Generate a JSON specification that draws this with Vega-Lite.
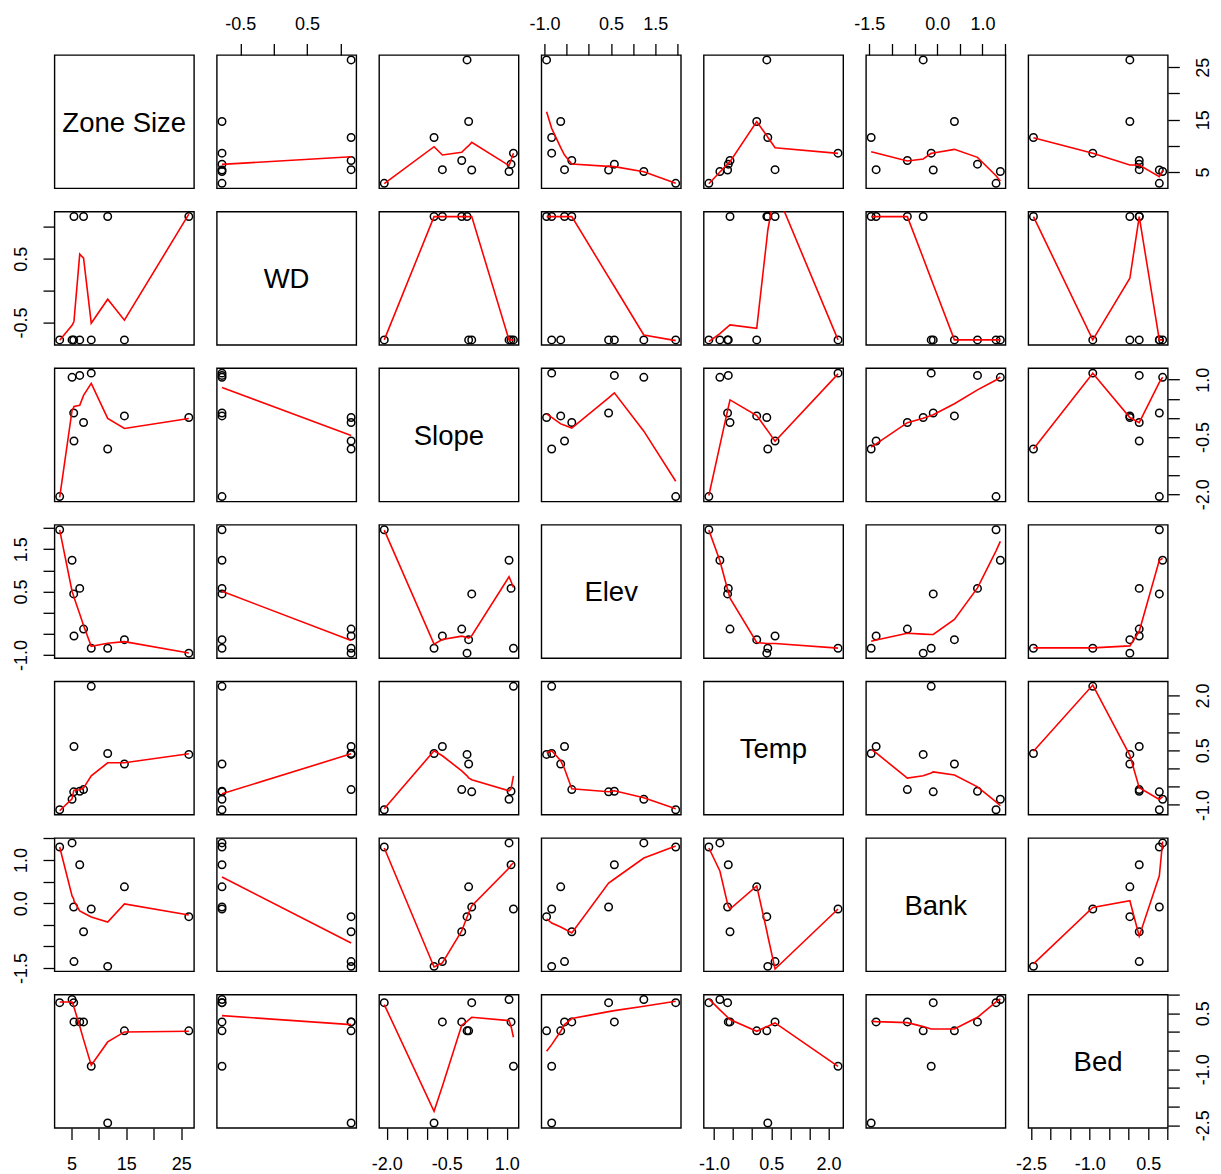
{
  "$schema": "https://vega.github.io/schema/vega-lite/v6.json",
  "datasets": {
    "obs": [
      {"ZoneSize": 26.4, "WD": 1.1619, "Slope": 0.01, "Elev": -0.955, "Temp": 0.384, "Bank": -0.31, "Bed": 0.03},
      {"ZoneSize": 14.65, "WD": -0.7746, "Slope": 0.05, "Elev": -0.636, "Temp": 0.12, "Bank": 0.38, "Bed": 0.03},
      {"ZoneSize": 11.6, "WD": 1.1619, "Slope": -0.815, "Elev": -0.84, "Temp": 0.41, "Bank": -1.46, "Bed": -2.44},
      {"ZoneSize": 8.6, "WD": -0.7746, "Slope": 1.17, "Elev": -0.84, "Temp": 2.25, "Bank": -0.133, "Bed": -0.92},
      {"ZoneSize": 7.2, "WD": 1.1619, "Slope": -0.123, "Elev": -0.386, "Temp": -0.58, "Bank": -0.66, "Bed": 0.27},
      {"ZoneSize": 6.5, "WD": -0.7746, "Slope": 1.11, "Elev": 0.575, "Temp": -0.625, "Bank": 0.89, "Bed": 0.27},
      {"ZoneSize": 5.45, "WD": 1.1619, "Slope": -0.607, "Elev": -0.55, "Temp": 0.6, "Bank": -1.35, "Bed": 0.27},
      {"ZoneSize": 5.4, "WD": -0.7746, "Slope": 0.127, "Elev": 0.445, "Temp": -0.643, "Bank": -0.088, "Bed": 0.785},
      {"ZoneSize": 5.1, "WD": -0.7746, "Slope": 1.06, "Elev": 1.24, "Temp": -0.845, "Bank": 1.395, "Bed": 0.87},
      {"ZoneSize": 2.84, "WD": -0.7746, "Slope": -2.06, "Elev": 1.96, "Temp": -1.134, "Bank": 1.3, "Bed": 0.785}
    ],
    "smooth": [
      {"fit": "ZoneSize~WD", "WD": -0.7746, "ZoneSize": 6.47}, {"fit": "ZoneSize~WD", "WD": 1.1619, "ZoneSize": 7.93},
      {"fit": "ZoneSize~Slope", "Slope": -2.06, "ZoneSize": 2.78}, {"fit": "ZoneSize~Slope", "Slope": -0.815, "ZoneSize": 9.84}, {"fit": "ZoneSize~Slope", "Slope": -0.607, "ZoneSize": 8.25}, {"fit": "ZoneSize~Slope", "Slope": -0.123, "ZoneSize": 8.76}, {"fit": "ZoneSize~Slope", "Slope": 0.01, "ZoneSize": 9.78}, {"fit": "ZoneSize~Slope", "Slope": 0.05, "ZoneSize": 10.03}, {"fit": "ZoneSize~Slope", "Slope": 0.127, "ZoneSize": 10.67}, {"fit": "ZoneSize~Slope", "Slope": 1.06, "ZoneSize": 6.22}, {"fit": "ZoneSize~Slope", "Slope": 1.11, "ZoneSize": 7.3}, {"fit": "ZoneSize~Slope", "Slope": 1.17, "ZoneSize": 8.57},
      {"fit": "ZoneSize~Elev", "Elev": -0.955, "ZoneSize": 16.52}, {"fit": "ZoneSize~Elev", "Elev": -0.84, "ZoneSize": 13.34}, {"fit": "ZoneSize~Elev", "Elev": -0.636, "ZoneSize": 9.65}, {"fit": "ZoneSize~Elev", "Elev": -0.55, "ZoneSize": 8.25}, {"fit": "ZoneSize~Elev", "Elev": -0.386, "ZoneSize": 6.53}, {"fit": "ZoneSize~Elev", "Elev": 0.445, "ZoneSize": 6.09}, {"fit": "ZoneSize~Elev", "Elev": 0.575, "ZoneSize": 6.03}, {"fit": "ZoneSize~Elev", "Elev": 1.24, "ZoneSize": 5.07}, {"fit": "ZoneSize~Elev", "Elev": 1.96, "ZoneSize": 2.84},
      {"fit": "ZoneSize~Temp", "Temp": -1.134, "ZoneSize": 2.78}, {"fit": "ZoneSize~Temp", "Temp": -0.845, "ZoneSize": 5.01}, {"fit": "ZoneSize~Temp", "Temp": -0.643, "ZoneSize": 6.53}, {"fit": "ZoneSize~Temp", "Temp": -0.625, "ZoneSize": 6.66}, {"fit": "ZoneSize~Temp", "Temp": -0.58, "ZoneSize": 6.98}, {"fit": "ZoneSize~Temp", "Temp": 0.12, "ZoneSize": 14.62}, {"fit": "ZoneSize~Temp", "Temp": 0.384, "ZoneSize": 11.94}, {"fit": "ZoneSize~Temp", "Temp": 0.41, "ZoneSize": 11.63}, {"fit": "ZoneSize~Temp", "Temp": 0.6, "ZoneSize": 9.65}, {"fit": "ZoneSize~Temp", "Temp": 2.25, "ZoneSize": 8.57},
      {"fit": "ZoneSize~Bank", "Bank": -1.46, "ZoneSize": 8.89}, {"fit": "ZoneSize~Bank", "Bank": -1.35, "ZoneSize": 8.63}, {"fit": "ZoneSize~Bank", "Bank": -0.66, "ZoneSize": 7.11}, {"fit": "ZoneSize~Bank", "Bank": -0.31, "ZoneSize": 7.49}, {"fit": "ZoneSize~Bank", "Bank": -0.133, "ZoneSize": 8.57}, {"fit": "ZoneSize~Bank", "Bank": -0.088, "ZoneSize": 8.63}, {"fit": "ZoneSize~Bank", "Bank": 0.38, "ZoneSize": 9.33}, {"fit": "ZoneSize~Bank", "Bank": 0.89, "ZoneSize": 7.81}, {"fit": "ZoneSize~Bank", "Bank": 1.3, "ZoneSize": 4.31}, {"fit": "ZoneSize~Bank", "Bank": 1.395, "ZoneSize": 3.3},
      {"fit": "ZoneSize~Bed", "Bed": -2.44, "ZoneSize": 11.56}, {"fit": "ZoneSize~Bed", "Bed": -0.92, "ZoneSize": 8.57}, {"fit": "ZoneSize~Bed", "Bed": 0.03, "ZoneSize": 6.34}, {"fit": "ZoneSize~Bed", "Bed": 0.27, "ZoneSize": 6.34}, {"fit": "ZoneSize~Bed", "Bed": 0.785, "ZoneSize": 4.12}, {"fit": "ZoneSize~Bed", "Bed": 0.87, "ZoneSize": 5.26},

      {"fit": "WD~ZoneSize", "ZoneSize": 2.84, "WD": -0.779}, {"fit": "WD~ZoneSize", "ZoneSize": 5.1, "WD": -0.543}, {"fit": "WD~ZoneSize", "ZoneSize": 5.4, "WD": -0.496}, {"fit": "WD~ZoneSize", "ZoneSize": 5.45, "WD": -0.48}, {"fit": "WD~ZoneSize", "ZoneSize": 6.5, "WD": 0.571}, {"fit": "WD~ZoneSize", "ZoneSize": 7.2, "WD": 0.508}, {"fit": "WD~ZoneSize", "ZoneSize": 8.6, "WD": -0.512}, {"fit": "WD~ZoneSize", "ZoneSize": 11.6, "WD": -0.135}, {"fit": "WD~ZoneSize", "ZoneSize": 14.65, "WD": -0.465}, {"fit": "WD~ZoneSize", "ZoneSize": 26.4, "WD": 1.199},
      {"fit": "WD~Slope", "Slope": -2.06, "WD": -0.774}, {"fit": "WD~Slope", "Slope": -0.815, "WD": 1.161}, {"fit": "WD~Slope", "Slope": -0.607, "WD": 1.161}, {"fit": "WD~Slope", "Slope": -0.123, "WD": 1.161}, {"fit": "WD~Slope", "Slope": 0.01, "WD": 1.161}, {"fit": "WD~Slope", "Slope": 0.05, "WD": 1.161}, {"fit": "WD~Slope", "Slope": 0.127, "WD": 1.161}, {"fit": "WD~Slope", "Slope": 1.06, "WD": -0.774}, {"fit": "WD~Slope", "Slope": 1.11, "WD": -0.774}, {"fit": "WD~Slope", "Slope": 1.17, "WD": -0.774},
      {"fit": "WD~Elev", "Elev": -0.955, "WD": 1.161}, {"fit": "WD~Elev", "Elev": -0.84, "WD": 1.161}, {"fit": "WD~Elev", "Elev": -0.636, "WD": 1.161}, {"fit": "WD~Elev", "Elev": -0.55, "WD": 1.161}, {"fit": "WD~Elev", "Elev": -0.386, "WD": 1.161}, {"fit": "WD~Elev", "Elev": 0.445, "WD": 0.211}, {"fit": "WD~Elev", "Elev": 0.575, "WD": 0.064}, {"fit": "WD~Elev", "Elev": 1.24, "WD": -0.696}, {"fit": "WD~Elev", "Elev": 1.96, "WD": -0.785},
      {"fit": "WD~Temp", "Temp": -1.134, "WD": -0.8}, {"fit": "WD~Temp", "Temp": -0.845, "WD": -0.675}, {"fit": "WD~Temp", "Temp": -0.643, "WD": -0.571}, {"fit": "WD~Temp", "Temp": -0.625, "WD": -0.56}, {"fit": "WD~Temp", "Temp": -0.58, "WD": -0.539}, {"fit": "WD~Temp", "Temp": 0.12, "WD": -0.591}, {"fit": "WD~Temp", "Temp": 0.384, "WD": 0.805}, {"fit": "WD~Temp", "Temp": 0.41, "WD": 0.947}, {"fit": "WD~Temp", "Temp": 0.6, "WD": 1.592}, {"fit": "WD~Temp", "Temp": 2.25, "WD": -0.774},
      {"fit": "WD~Bank", "Bank": -1.46, "WD": 1.161}, {"fit": "WD~Bank", "Bank": -1.35, "WD": 1.161}, {"fit": "WD~Bank", "Bank": -0.66, "WD": 1.161}, {"fit": "WD~Bank", "Bank": -0.31, "WD": 0.512}, {"fit": "WD~Bank", "Bank": -0.133, "WD": 0.18}, {"fit": "WD~Bank", "Bank": -0.088, "WD": 0.096}, {"fit": "WD~Bank", "Bank": 0.38, "WD": -0.774}, {"fit": "WD~Bank", "Bank": 0.89, "WD": -0.774}, {"fit": "WD~Bank", "Bank": 1.3, "WD": -0.774}, {"fit": "WD~Bank", "Bank": 1.395, "WD": -0.774},
      {"fit": "WD~Bed", "Bed": -2.44, "WD": 1.161}, {"fit": "WD~Bed", "Bed": -0.92, "WD": -0.774}, {"fit": "WD~Bed", "Bed": 0.03, "WD": 0.193}, {"fit": "WD~Bed", "Bed": 0.27, "WD": 1.161}, {"fit": "WD~Bed", "Bed": 0.785, "WD": -0.774}, {"fit": "WD~Bed", "Bed": 0.87, "WD": -0.774},

      {"fit": "Slope~ZoneSize", "ZoneSize": 2.84, "Slope": -2.082}, {"fit": "Slope~ZoneSize", "ZoneSize": 5.1, "Slope": 0.195}, {"fit": "Slope~ZoneSize", "ZoneSize": 5.4, "Slope": 0.273}, {"fit": "Slope~ZoneSize", "ZoneSize": 5.45, "Slope": 0.3}, {"fit": "Slope~ZoneSize", "ZoneSize": 6.5, "Slope": 0.326}, {"fit": "Slope~ZoneSize", "ZoneSize": 7.2, "Slope": 0.588}, {"fit": "Slope~ZoneSize", "ZoneSize": 8.6, "Slope": 0.901}, {"fit": "Slope~ZoneSize", "ZoneSize": 11.6, "Slope": -0.015}, {"fit": "Slope~ZoneSize", "ZoneSize": 14.65, "Slope": -0.277}, {"fit": "Slope~ZoneSize", "ZoneSize": 26.4, "Slope": -0.015},
      {"fit": "Slope~WD", "WD": -0.7746, "Slope": 0.797}, {"fit": "Slope~WD", "WD": 1.1619, "Slope": -0.46},
      {"fit": "Slope~Elev", "Elev": -0.955, "Slope": 0.104}, {"fit": "Slope~Elev", "Elev": -0.84, "Slope": 0.012}, {"fit": "Slope~Elev", "Elev": -0.636, "Slope": -0.158}, {"fit": "Slope~Elev", "Elev": -0.55, "Slope": -0.193}, {"fit": "Slope~Elev", "Elev": -0.386, "Slope": -0.271}, {"fit": "Slope~Elev", "Elev": 0.445, "Slope": 0.523}, {"fit": "Slope~Elev", "Elev": 0.575, "Slope": 0.654}, {"fit": "Slope~Elev", "Elev": 1.24, "Slope": -0.349}, {"fit": "Slope~Elev", "Elev": 1.96, "Slope": -1.658},
      {"fit": "Slope~Temp", "Temp": -1.134, "Slope": -2.033}, {"fit": "Slope~Temp", "Temp": -0.845, "Slope": -0.722}, {"fit": "Slope~Temp", "Temp": -0.643, "Slope": 0.191}, {"fit": "Slope~Temp", "Temp": -0.625, "Slope": 0.272}, {"fit": "Slope~Temp", "Temp": -0.58, "Slope": 0.47}, {"fit": "Slope~Temp", "Temp": 0.12, "Slope": 0.06}, {"fit": "Slope~Temp", "Temp": 0.384, "Slope": -0.306}, {"fit": "Slope~Temp", "Temp": 0.41, "Slope": -0.341}, {"fit": "Slope~Temp", "Temp": 0.6, "Slope": -0.611}, {"fit": "Slope~Temp", "Temp": 2.25, "Slope": 1.151},
      {"fit": "Slope~Bank", "Bank": -1.46, "Slope": -0.765}, {"fit": "Slope~Bank", "Bank": -1.35, "Slope": -0.683}, {"fit": "Slope~Bank", "Bank": -0.66, "Slope": -0.125}, {"fit": "Slope~Bank", "Bank": -0.31, "Slope": -0.012}, {"fit": "Slope~Bank", "Bank": -0.133, "Slope": 0.06}, {"fit": "Slope~Bank", "Bank": -0.088, "Slope": 0.081}, {"fit": "Slope~Bank", "Bank": 0.38, "Slope": 0.37}, {"fit": "Slope~Bank", "Bank": 0.89, "Slope": 0.731}, {"fit": "Slope~Bank", "Bank": 1.3, "Slope": 0.989}, {"fit": "Slope~Bank", "Bank": 1.395, "Slope": 1.072},
      {"fit": "Slope~Bed", "Bed": -2.44, "Slope": -0.817}, {"fit": "Slope~Bed", "Bed": -0.92, "Slope": 1.165}, {"fit": "Slope~Bed", "Bed": 0.03, "Slope": 0.009}, {"fit": "Slope~Bed", "Bed": 0.27, "Slope": -0.125}, {"fit": "Slope~Bed", "Bed": 0.785, "Slope": 0.927}, {"fit": "Slope~Bed", "Bed": 0.87, "Slope": 1.062},

      {"fit": "Elev~ZoneSize", "ZoneSize": 2.84, "Elev": 1.956}, {"fit": "Elev~ZoneSize", "ZoneSize": 5.1, "Elev": 0.507}, {"fit": "Elev~ZoneSize", "ZoneSize": 5.4, "Elev": 0.389}, {"fit": "Elev~ZoneSize", "ZoneSize": 5.45, "Elev": 0.365}, {"fit": "Elev~ZoneSize", "ZoneSize": 6.5, "Elev": -0.029}, {"fit": "Elev~ZoneSize", "ZoneSize": 7.2, "Elev": -0.304}, {"fit": "Elev~ZoneSize", "ZoneSize": 8.6, "Elev": -0.792}, {"fit": "Elev~ZoneSize", "ZoneSize": 11.6, "Elev": -0.722}, {"fit": "Elev~ZoneSize", "ZoneSize": 14.65, "Elev": -0.683}, {"fit": "Elev~ZoneSize", "ZoneSize": 26.4, "Elev": -0.95},
      {"fit": "Elev~WD", "WD": -0.7746, "Elev": 0.507}, {"fit": "Elev~WD", "WD": 1.1619, "Elev": -0.659},
      {"fit": "Elev~Slope", "Slope": -2.06, "Elev": 1.951}, {"fit": "Elev~Slope", "Slope": -0.815, "Elev": -0.742}, {"fit": "Elev~Slope", "Slope": -0.607, "Elev": -0.632}, {"fit": "Elev~Slope", "Slope": -0.123, "Elev": -0.553}, {"fit": "Elev~Slope", "Slope": 0.01, "Elev": -0.585}, {"fit": "Elev~Slope", "Slope": 0.05, "Elev": -0.6}, {"fit": "Elev~Slope", "Slope": 0.127, "Elev": -0.545}, {"fit": "Elev~Slope", "Slope": 1.06, "Elev": 0.849}, {"fit": "Elev~Slope", "Slope": 1.11, "Elev": 0.738}, {"fit": "Elev~Slope", "Slope": 1.17, "Elev": 0.597},
      {"fit": "Elev~Temp", "Temp": -1.134, "Elev": 1.951}, {"fit": "Elev~Temp", "Temp": -0.845, "Elev": 1.227}, {"fit": "Elev~Temp", "Temp": -0.643, "Elev": 0.549}, {"fit": "Elev~Temp", "Temp": -0.625, "Elev": 0.494}, {"fit": "Elev~Temp", "Temp": -0.58, "Elev": 0.345}, {"fit": "Elev~Temp", "Temp": 0.12, "Elev": -0.703}, {"fit": "Elev~Temp", "Temp": 0.384, "Elev": -0.726}, {"fit": "Elev~Temp", "Temp": 0.41, "Elev": -0.726}, {"fit": "Elev~Temp", "Temp": 0.6, "Elev": -0.726}, {"fit": "Elev~Temp", "Temp": 2.25, "Elev": -0.836},
      {"fit": "Elev~Bank", "Bank": -1.46, "Elev": -0.672}, {"fit": "Elev~Bank", "Bank": -1.35, "Elev": -0.644}, {"fit": "Elev~Bank", "Bank": -0.66, "Elev": -0.486}, {"fit": "Elev~Bank", "Bank": -0.31, "Elev": -0.505}, {"fit": "Elev~Bank", "Bank": -0.133, "Elev": -0.514}, {"fit": "Elev~Bank", "Bank": -0.088, "Elev": -0.514}, {"fit": "Elev~Bank", "Bank": 0.38, "Elev": -0.16}, {"fit": "Elev~Bank", "Bank": 0.89, "Elev": 0.586}, {"fit": "Elev~Bank", "Bank": 1.3, "Elev": 1.462}, {"fit": "Elev~Bank", "Bank": 1.395, "Elev": 1.686},
      {"fit": "Elev~Bed", "Bed": -2.44, "Elev": -0.83}, {"fit": "Elev~Bed", "Bed": -0.92, "Elev": -0.83}, {"fit": "Elev~Bed", "Bed": 0.03, "Elev": -0.784}, {"fit": "Elev~Bed", "Bed": 0.27, "Elev": -0.439}, {"fit": "Elev~Bed", "Bed": 0.785, "Elev": 1.238}, {"fit": "Elev~Bed", "Bed": 0.87, "Elev": 1.285},

      {"fit": "Temp~ZoneSize", "ZoneSize": 2.84, "Temp": -1.162}, {"fit": "Temp~ZoneSize", "ZoneSize": 5.1, "Temp": -0.833}, {"fit": "Temp~ZoneSize", "ZoneSize": 5.4, "Temp": -0.614}, {"fit": "Temp~ZoneSize", "ZoneSize": 5.45, "Temp": -0.6}, {"fit": "Temp~ZoneSize", "ZoneSize": 6.5, "Temp": -0.587}, {"fit": "Temp~ZoneSize", "ZoneSize": 7.2, "Temp": -0.532}, {"fit": "Temp~ZoneSize", "ZoneSize": 8.6, "Temp": -0.204}, {"fit": "Temp~ZoneSize", "ZoneSize": 11.6, "Temp": 0.154}, {"fit": "Temp~ZoneSize", "ZoneSize": 14.65, "Temp": 0.154}, {"fit": "Temp~ZoneSize", "ZoneSize": 26.4, "Temp": 0.4},
      {"fit": "Temp~WD", "WD": -0.7746, "Temp": -0.696}, {"fit": "Temp~WD", "WD": 1.1619, "Temp": 0.4},
      {"fit": "Temp~Slope", "Slope": -2.06, "Temp": -1.107}, {"fit": "Temp~Slope", "Slope": -0.815, "Temp": 0.483}, {"fit": "Temp~Slope", "Slope": -0.607, "Temp": 0.346}, {"fit": "Temp~Slope", "Slope": -0.123, "Temp": -0.066}, {"fit": "Temp~Slope", "Slope": 0.01, "Temp": -0.203}, {"fit": "Temp~Slope", "Slope": 0.05, "Temp": -0.258}, {"fit": "Temp~Slope", "Slope": 0.127, "Temp": -0.312}, {"fit": "Temp~Slope", "Slope": 1.06, "Temp": -0.614}, {"fit": "Temp~Slope", "Slope": 1.11, "Temp": -0.559}, {"fit": "Temp~Slope", "Slope": 1.17, "Temp": -0.203},
      {"fit": "Temp~Elev", "Elev": -0.955, "Temp": 0.428}, {"fit": "Temp~Elev", "Elev": -0.84, "Temp": 0.483}, {"fit": "Temp~Elev", "Elev": -0.636, "Temp": 0.209}, {"fit": "Temp~Elev", "Elev": -0.55, "Temp": -0.01}, {"fit": "Temp~Elev", "Elev": -0.386, "Temp": -0.559}, {"fit": "Temp~Elev", "Elev": 0.445, "Temp": -0.641}, {"fit": "Temp~Elev", "Elev": 0.575, "Temp": -0.614}, {"fit": "Temp~Elev", "Elev": 1.24, "Temp": -0.806}, {"fit": "Temp~Elev", "Elev": 1.96, "Temp": -1.107},
      {"fit": "Temp~Bank", "Bank": -1.46, "Temp": 0.522}, {"fit": "Temp~Bank", "Bank": -1.35, "Temp": 0.425}, {"fit": "Temp~Bank", "Bank": -0.66, "Temp": -0.267}, {"fit": "Temp~Bank", "Bank": -0.31, "Temp": -0.202}, {"fit": "Temp~Bank", "Bank": -0.133, "Temp": -0.127}, {"fit": "Temp~Bank", "Bank": -0.088, "Temp": -0.095}, {"fit": "Temp~Bank", "Bank": 0.38, "Temp": -0.181}, {"fit": "Temp~Bank", "Bank": 0.89, "Temp": -0.505}, {"fit": "Temp~Bank", "Bank": 1.3, "Temp": -0.916}, {"fit": "Temp~Bank", "Bank": 1.395, "Temp": -1.024},
      {"fit": "Temp~Bed", "Bed": -2.44, "Temp": 0.468}, {"fit": "Temp~Bed", "Bed": -0.92, "Temp": 2.284}, {"fit": "Temp~Bed", "Bed": 0.03, "Temp": 0.36}, {"fit": "Temp~Bed", "Bed": 0.27, "Temp": -0.527}, {"fit": "Temp~Bed", "Bed": 0.785, "Temp": -0.851}, {"fit": "Temp~Bed", "Bed": 0.87, "Temp": -0.776},

      {"fit": "Bank~ZoneSize", "ZoneSize": 2.84, "Bank": 1.301}, {"fit": "Bank~ZoneSize", "ZoneSize": 5.1, "Bank": 0.168}, {"fit": "Bank~ZoneSize", "ZoneSize": 5.4, "Bank": 0.098}, {"fit": "Bank~ZoneSize", "ZoneSize": 5.45, "Bank": 0.052}, {"fit": "Bank~ZoneSize", "ZoneSize": 6.5, "Bank": -0.179}, {"fit": "Bank~ZoneSize", "ZoneSize": 7.2, "Bank": -0.226}, {"fit": "Bank~ZoneSize", "ZoneSize": 8.6, "Bank": -0.318}, {"fit": "Bank~ZoneSize", "ZoneSize": 11.6, "Bank": -0.434}, {"fit": "Bank~ZoneSize", "ZoneSize": 14.65, "Bank": -0.017}, {"fit": "Bank~ZoneSize", "ZoneSize": 26.4, "Bank": -0.272},
      {"fit": "Bank~WD", "WD": -0.7746, "Bank": 0.607}, {"fit": "Bank~WD", "WD": 1.1619, "Bank": -0.919},
      {"fit": "Bank~Slope", "Slope": -2.06, "Bank": 1.278}, {"fit": "Bank~Slope", "Slope": -0.815, "Bank": -1.474}, {"fit": "Bank~Slope", "Slope": -0.607, "Bank": -1.382}, {"fit": "Bank~Slope", "Slope": -0.123, "Bank": -0.642}, {"fit": "Bank~Slope", "Slope": 0.01, "Bank": -0.318}, {"fit": "Bank~Slope", "Slope": 0.05, "Bank": -0.226}, {"fit": "Bank~Slope", "Slope": 0.127, "Bank": -0.064}, {"fit": "Bank~Slope", "Slope": 1.06, "Bank": 0.815}, {"fit": "Bank~Slope", "Slope": 1.11, "Bank": 0.885}, {"fit": "Bank~Slope", "Slope": 1.17, "Bank": 0.931},
      {"fit": "Bank~Elev", "Elev": -0.955, "Bank": -0.364}, {"fit": "Bank~Elev", "Elev": -0.84, "Bank": -0.457}, {"fit": "Bank~Elev", "Elev": -0.636, "Bank": -0.549}, {"fit": "Bank~Elev", "Elev": -0.55, "Bank": -0.596}, {"fit": "Bank~Elev", "Elev": -0.386, "Bank": -0.688}, {"fit": "Bank~Elev", "Elev": 0.445, "Bank": 0.468}, {"fit": "Bank~Elev", "Elev": 0.575, "Bank": 0.561}, {"fit": "Bank~Elev", "Elev": 1.24, "Bank": 1.046}, {"fit": "Bank~Elev", "Elev": 1.96, "Bank": 1.324},
      {"fit": "Bank~Temp", "Temp": -1.134, "Bank": 1.278}, {"fit": "Bank~Temp", "Temp": -0.845, "Bank": 0.746}, {"fit": "Bank~Temp", "Temp": -0.643, "Bank": -0.017}, {"fit": "Bank~Temp", "Temp": -0.625, "Bank": -0.064}, {"fit": "Bank~Temp", "Temp": -0.58, "Bank": -0.133}, {"fit": "Bank~Temp", "Temp": 0.12, "Bank": 0.399}, {"fit": "Bank~Temp", "Temp": 0.384, "Bank": -0.642}, {"fit": "Bank~Temp", "Temp": 0.41, "Bank": -0.757}, {"fit": "Bank~Temp", "Temp": 0.6, "Bank": -1.52}, {"fit": "Bank~Temp", "Temp": 2.25, "Bank": -0.133},
      {"fit": "Bank~Bed", "Bed": -2.44, "Bank": -1.401}, {"fit": "Bank~Bed", "Bed": -0.92, "Bank": -0.097}, {"fit": "Bank~Bed", "Bed": 0.03, "Bank": 0.058}, {"fit": "Bank~Bed", "Bed": 0.27, "Bank": -0.763}, {"fit": "Bank~Bed", "Bed": 0.785, "Bank": 0.633}, {"fit": "Bank~Bed", "Bed": 0.87, "Bank": 1.427},

      {"fit": "Bed~ZoneSize", "ZoneSize": 2.84, "Bed": 0.805}, {"fit": "Bed~ZoneSize", "ZoneSize": 5.1, "Bed": 0.805}, {"fit": "Bed~ZoneSize", "ZoneSize": 5.4, "Bed": 0.698}, {"fit": "Bed~ZoneSize", "ZoneSize": 5.45, "Bed": 0.662}, {"fit": "Bed~ZoneSize", "ZoneSize": 6.5, "Bed": 0.153}, {"fit": "Bed~ZoneSize", "ZoneSize": 7.2, "Bed": -0.205}, {"fit": "Bed~ZoneSize", "ZoneSize": 8.6, "Bed": -0.893}, {"fit": "Bed~ZoneSize", "ZoneSize": 11.6, "Bed": -0.267}, {"fit": "Bed~ZoneSize", "ZoneSize": 14.65, "Bed": 0.001}, {"fit": "Bed~ZoneSize", "ZoneSize": 26.4, "Bed": 0.019},
      {"fit": "Bed~WD", "WD": -0.7746, "Bed": 0.439}, {"fit": "Bed~WD", "WD": 1.1619, "Bed": 0.198},
      {"fit": "Bed~Slope", "Slope": -2.06, "Bed": 0.734}, {"fit": "Bed~Slope", "Slope": -0.815, "Bed": -2.126}, {"fit": "Bed~Slope", "Slope": -0.607, "Bed": -1.456}, {"fit": "Bed~Slope", "Slope": -0.123, "Bed": 0.18}, {"fit": "Bed~Slope", "Slope": 0.01, "Bed": 0.287}, {"fit": "Bed~Slope", "Slope": 0.05, "Bed": 0.323}, {"fit": "Bed~Slope", "Slope": 0.127, "Bed": 0.394}, {"fit": "Bed~Slope", "Slope": 1.06, "Bed": 0.305}, {"fit": "Bed~Slope", "Slope": 1.11, "Bed": 0.153}, {"fit": "Bed~Slope", "Slope": 1.17, "Bed": -0.142},
      {"fit": "Bed~Elev", "Elev": -0.955, "Bed": -0.517}, {"fit": "Bed~Elev", "Elev": -0.84, "Bed": -0.339}, {"fit": "Bed~Elev", "Elev": -0.636, "Bed": 0.019}, {"fit": "Bed~Elev", "Elev": -0.55, "Bed": 0.198}, {"fit": "Bed~Elev", "Elev": -0.386, "Bed": 0.359}, {"fit": "Bed~Elev", "Elev": 0.445, "Bed": 0.546}, {"fit": "Bed~Elev", "Elev": 0.575, "Bed": 0.573}, {"fit": "Bed~Elev", "Elev": 1.24, "Bed": 0.689}, {"fit": "Bed~Elev", "Elev": 1.96, "Bed": 0.823},
      {"fit": "Bed~Temp", "Temp": -1.134, "Bed": 0.886}, {"fit": "Bed~Temp", "Temp": -0.845, "Bed": 0.591}, {"fit": "Bed~Temp", "Temp": -0.643, "Bed": 0.394}, {"fit": "Bed~Temp", "Temp": -0.625, "Bed": 0.367}, {"fit": "Bed~Temp", "Temp": -0.58, "Bed": 0.332}, {"fit": "Bed~Temp", "Temp": 0.12, "Bed": 0.019}, {"fit": "Bed~Temp", "Temp": 0.384, "Bed": 0.144}, {"fit": "Bed~Temp", "Temp": 0.41, "Bed": 0.153}, {"fit": "Bed~Temp", "Temp": 0.6, "Bed": 0.242}, {"fit": "Bed~Temp", "Temp": 2.25, "Bed": -0.92},
      {"fit": "Bed~Bank", "Bank": -1.46, "Bed": 0.287}, {"fit": "Bed~Bank", "Bank": -1.35, "Bed": 0.278}, {"fit": "Bed~Bank", "Bank": -0.66, "Bed": 0.251}, {"fit": "Bed~Bank", "Bank": -0.31, "Bed": 0.144}, {"fit": "Bed~Bank", "Bank": -0.133, "Bed": 0.081}, {"fit": "Bed~Bank", "Bank": -0.088, "Bed": 0.081}, {"fit": "Bed~Bank", "Bank": 0.38, "Bed": 0.081}, {"fit": "Bed~Bank", "Bank": 0.89, "Bed": 0.394}, {"fit": "Bed~Bank", "Bank": 1.3, "Bed": 0.805}, {"fit": "Bed~Bank", "Bank": 1.395, "Bed": 0.886}
    ]
  },
  "data": {"name": "obs"},
  "padding": {"left": 10.5, "top": 14, "right": 5, "bottom": 5},
  "columns": 7,
  "spacing": {"row": 22.6, "column": 22.3},
  "bounds": "flush",
  "concat": [
    {"width": 139.5, "height": 133.3, "layer": [
      {"mark": {"type": "point", "opacity": 0}, "encoding": {"x": {"field": "ZoneSize", "type": "quantitative", "scale": {"domain": [1.898, 27.342]}, "axis": null}, "y": {"field": "ZoneSize", "type": "quantitative", "scale": {"domain": [1.898, 27.342]}, "axis": null}}},
      {"data": {"values": [{"name": "Zone Size"}]}, "mark": "text", "encoding": {"text": {"field": "name"}}}]},
    {"width": 139.5, "height": 133.3,
     "encoding": {"x": {"field": "WD", "type": "quantitative", "scale": {"domain": [-0.8525, 1.2395]}, "axis": {"orient": "top", "title": null, "values": [-0.5, 0, 0.5, 1], "format": ".1f", "labelExpr": "indexof([-0.5,0.5],datum.value)>=0?replace(datum.label,'−','-'):''"}},
                  "y": {"field": "ZoneSize", "type": "quantitative", "scale": {"domain": [1.898, 27.342]}, "axis": null}},
     "layer": [{"mark": "point"}, {"data": {"name": "smooth"}, "transform": [{"filter": "datum.fit=='ZoneSize~WD'"}], "mark": {"type": "line", "clip": true}}]},
    {"width": 139.5, "height": 133.3,
     "encoding": {"x": {"field": "Slope", "type": "quantitative", "scale": {"domain": [-2.189, 1.299]}, "axis": null},
                  "y": {"field": "ZoneSize", "type": "quantitative", "scale": {"domain": [1.898, 27.342]}, "axis": null}},
     "layer": [{"mark": "point"}, {"data": {"name": "smooth"}, "transform": [{"filter": "datum.fit=='ZoneSize~Slope'"}], "mark": {"type": "line", "clip": true}}]},
    {"width": 139.5, "height": 133.3,
     "encoding": {"x": {"field": "Elev", "type": "quantitative", "scale": {"domain": [-1.072, 2.077]}, "axis": {"orient": "top", "title": null, "values": [-1, -0.5, 0, 0.5, 1, 1.5, 2], "format": ".1f", "labelExpr": "indexof([-1,0.5,1.5],datum.value)>=0?replace(datum.label,'−','-'):''"}},
                  "y": {"field": "ZoneSize", "type": "quantitative", "scale": {"domain": [1.898, 27.342]}, "axis": null}},
     "layer": [{"mark": "point"}, {"data": {"name": "smooth"}, "transform": [{"filter": "datum.fit=='ZoneSize~Elev'"}], "mark": {"type": "line", "clip": true}}]},
    {"width": 139.5, "height": 133.3,
     "encoding": {"x": {"field": "Temp", "type": "quantitative", "scale": {"domain": [-1.269, 2.385]}, "axis": null},
                  "y": {"field": "ZoneSize", "type": "quantitative", "scale": {"domain": [1.898, 27.342]}, "axis": null}},
     "layer": [{"mark": "point"}, {"data": {"name": "smooth"}, "transform": [{"filter": "datum.fit=='ZoneSize~Temp'"}], "mark": {"type": "line", "clip": true}}]},
    {"width": 139.5, "height": 133.3,
     "encoding": {"x": {"field": "Bank", "type": "quantitative", "scale": {"domain": [-1.574, 1.509]}, "axis": {"orient": "top", "title": null, "values": [-1.5, -1, -0.5, 0, 0.5, 1, 1.5], "format": ".1f", "labelExpr": "indexof([-1.5,0,1],datum.value)>=0?replace(datum.label,'−','-'):''"}},
                  "y": {"field": "ZoneSize", "type": "quantitative", "scale": {"domain": [1.898, 27.342]}, "axis": null}},
     "layer": [{"mark": "point"}, {"data": {"name": "smooth"}, "transform": [{"filter": "datum.fit=='ZoneSize~Bank'"}], "mark": {"type": "line", "clip": true}}]},
    {"width": 139.5, "height": 133.3,
     "encoding": {"x": {"field": "Bed", "type": "quantitative", "scale": {"domain": [-2.572, 1.002]}, "axis": null},
                  "y": {"field": "ZoneSize", "type": "quantitative", "scale": {"domain": [1.898, 27.342]}, "axis": {"orient": "right", "title": null, "values": [5, 10, 15, 20, 25], "labelExpr": "indexof([5,15,25],datum.value)>=0?datum.label:''"}}},
     "layer": [{"mark": "point"}, {"data": {"name": "smooth"}, "transform": [{"filter": "datum.fit=='ZoneSize~Bed'"}], "mark": {"type": "line", "clip": true}}]},

    {"width": 139.5, "height": 133.3,
     "encoding": {"x": {"field": "ZoneSize", "type": "quantitative", "scale": {"domain": [1.898, 27.342]}, "axis": null},
                  "y": {"field": "WD", "type": "quantitative", "scale": {"domain": [-0.8525, 1.2395]}, "axis": {"orient": "left", "title": null, "values": [-0.5, 0, 0.5, 1], "format": ".1f", "labelExpr": "indexof([-0.5,0.5],datum.value)>=0?replace(datum.label,'−','-'):''"}}},
     "layer": [{"mark": "point"}, {"data": {"name": "smooth"}, "transform": [{"filter": "datum.fit=='WD~ZoneSize'"}], "mark": {"type": "line", "clip": true}}]},
    {"width": 139.5, "height": 133.3, "layer": [
      {"mark": {"type": "point", "opacity": 0}, "encoding": {"x": {"field": "WD", "type": "quantitative", "scale": {"domain": [-0.8525, 1.2395]}, "axis": null}, "y": {"field": "WD", "type": "quantitative", "scale": {"domain": [-0.8525, 1.2395]}, "axis": null}}},
      {"data": {"values": [{"name": "WD"}]}, "mark": "text", "encoding": {"text": {"field": "name"}}}]},
    {"width": 139.5, "height": 133.3,
     "encoding": {"x": {"field": "Slope", "type": "quantitative", "scale": {"domain": [-2.189, 1.299]}, "axis": null},
                  "y": {"field": "WD", "type": "quantitative", "scale": {"domain": [-0.8525, 1.2395]}, "axis": null}},
     "layer": [{"mark": "point"}, {"data": {"name": "smooth"}, "transform": [{"filter": "datum.fit=='WD~Slope'"}], "mark": {"type": "line", "clip": true}}]},
    {"width": 139.5, "height": 133.3,
     "encoding": {"x": {"field": "Elev", "type": "quantitative", "scale": {"domain": [-1.072, 2.077]}, "axis": null},
                  "y": {"field": "WD", "type": "quantitative", "scale": {"domain": [-0.8525, 1.2395]}, "axis": null}},
     "layer": [{"mark": "point"}, {"data": {"name": "smooth"}, "transform": [{"filter": "datum.fit=='WD~Elev'"}], "mark": {"type": "line", "clip": true}}]},
    {"width": 139.5, "height": 133.3,
     "encoding": {"x": {"field": "Temp", "type": "quantitative", "scale": {"domain": [-1.269, 2.385]}, "axis": null},
                  "y": {"field": "WD", "type": "quantitative", "scale": {"domain": [-0.8525, 1.2395]}, "axis": null}},
     "layer": [{"mark": "point"}, {"data": {"name": "smooth"}, "transform": [{"filter": "datum.fit=='WD~Temp'"}], "mark": {"type": "line", "clip": true}}]},
    {"width": 139.5, "height": 133.3,
     "encoding": {"x": {"field": "Bank", "type": "quantitative", "scale": {"domain": [-1.574, 1.509]}, "axis": null},
                  "y": {"field": "WD", "type": "quantitative", "scale": {"domain": [-0.8525, 1.2395]}, "axis": null}},
     "layer": [{"mark": "point"}, {"data": {"name": "smooth"}, "transform": [{"filter": "datum.fit=='WD~Bank'"}], "mark": {"type": "line", "clip": true}}]},
    {"width": 139.5, "height": 133.3,
     "encoding": {"x": {"field": "Bed", "type": "quantitative", "scale": {"domain": [-2.572, 1.002]}, "axis": null},
                  "y": {"field": "WD", "type": "quantitative", "scale": {"domain": [-0.8525, 1.2395]}, "axis": null}},
     "layer": [{"mark": "point"}, {"data": {"name": "smooth"}, "transform": [{"filter": "datum.fit=='WD~Bed'"}], "mark": {"type": "line", "clip": true}}]},

    {"width": 139.5, "height": 133.3,
     "encoding": {"x": {"field": "ZoneSize", "type": "quantitative", "scale": {"domain": [1.898, 27.342]}, "axis": null},
                  "y": {"field": "Slope", "type": "quantitative", "scale": {"domain": [-2.189, 1.299]}, "axis": null}},
     "layer": [{"mark": "point"}, {"data": {"name": "smooth"}, "transform": [{"filter": "datum.fit=='Slope~ZoneSize'"}], "mark": {"type": "line", "clip": true}}]},
    {"width": 139.5, "height": 133.3,
     "encoding": {"x": {"field": "WD", "type": "quantitative", "scale": {"domain": [-0.8525, 1.2395]}, "axis": null},
                  "y": {"field": "Slope", "type": "quantitative", "scale": {"domain": [-2.189, 1.299]}, "axis": null}},
     "layer": [{"mark": "point"}, {"data": {"name": "smooth"}, "transform": [{"filter": "datum.fit=='Slope~WD'"}], "mark": {"type": "line", "clip": true}}]},
    {"width": 139.5, "height": 133.3, "layer": [
      {"mark": {"type": "point", "opacity": 0}, "encoding": {"x": {"field": "Slope", "type": "quantitative", "scale": {"domain": [-2.189, 1.299]}, "axis": null}, "y": {"field": "Slope", "type": "quantitative", "scale": {"domain": [-2.189, 1.299]}, "axis": null}}},
      {"data": {"values": [{"name": "Slope"}]}, "mark": "text", "encoding": {"text": {"field": "name"}}}]},
    {"width": 139.5, "height": 133.3,
     "encoding": {"x": {"field": "Elev", "type": "quantitative", "scale": {"domain": [-1.072, 2.077]}, "axis": null},
                  "y": {"field": "Slope", "type": "quantitative", "scale": {"domain": [-2.189, 1.299]}, "axis": null}},
     "layer": [{"mark": "point"}, {"data": {"name": "smooth"}, "transform": [{"filter": "datum.fit=='Slope~Elev'"}], "mark": {"type": "line", "clip": true}}]},
    {"width": 139.5, "height": 133.3,
     "encoding": {"x": {"field": "Temp", "type": "quantitative", "scale": {"domain": [-1.269, 2.385]}, "axis": null},
                  "y": {"field": "Slope", "type": "quantitative", "scale": {"domain": [-2.189, 1.299]}, "axis": null}},
     "layer": [{"mark": "point"}, {"data": {"name": "smooth"}, "transform": [{"filter": "datum.fit=='Slope~Temp'"}], "mark": {"type": "line", "clip": true}}]},
    {"width": 139.5, "height": 133.3,
     "encoding": {"x": {"field": "Bank", "type": "quantitative", "scale": {"domain": [-1.574, 1.509]}, "axis": null},
                  "y": {"field": "Slope", "type": "quantitative", "scale": {"domain": [-2.189, 1.299]}, "axis": null}},
     "layer": [{"mark": "point"}, {"data": {"name": "smooth"}, "transform": [{"filter": "datum.fit=='Slope~Bank'"}], "mark": {"type": "line", "clip": true}}]},
    {"width": 139.5, "height": 133.3,
     "encoding": {"x": {"field": "Bed", "type": "quantitative", "scale": {"domain": [-2.572, 1.002]}, "axis": null},
                  "y": {"field": "Slope", "type": "quantitative", "scale": {"domain": [-2.189, 1.299]}, "axis": {"orient": "right", "title": null, "values": [-2, -1.5, -1, -0.5, 0, 0.5, 1], "format": ".1f", "labelExpr": "indexof([-2,-0.5,1],datum.value)>=0?replace(datum.label,'−','-'):''"}}},
     "layer": [{"mark": "point"}, {"data": {"name": "smooth"}, "transform": [{"filter": "datum.fit=='Slope~Bed'"}], "mark": {"type": "line", "clip": true}}]},

    {"width": 139.5, "height": 133.3,
     "encoding": {"x": {"field": "ZoneSize", "type": "quantitative", "scale": {"domain": [1.898, 27.342]}, "axis": null},
                  "y": {"field": "Elev", "type": "quantitative", "scale": {"domain": [-1.072, 2.077]}, "axis": {"orient": "left", "title": null, "values": [-1, -0.5, 0, 0.5, 1, 1.5, 2], "format": ".1f", "labelExpr": "indexof([-1,0.5,1.5],datum.value)>=0?replace(datum.label,'−','-'):''"}}},
     "layer": [{"mark": "point"}, {"data": {"name": "smooth"}, "transform": [{"filter": "datum.fit=='Elev~ZoneSize'"}], "mark": {"type": "line", "clip": true}}]},
    {"width": 139.5, "height": 133.3,
     "encoding": {"x": {"field": "WD", "type": "quantitative", "scale": {"domain": [-0.8525, 1.2395]}, "axis": null},
                  "y": {"field": "Elev", "type": "quantitative", "scale": {"domain": [-1.072, 2.077]}, "axis": null}},
     "layer": [{"mark": "point"}, {"data": {"name": "smooth"}, "transform": [{"filter": "datum.fit=='Elev~WD'"}], "mark": {"type": "line", "clip": true}}]},
    {"width": 139.5, "height": 133.3,
     "encoding": {"x": {"field": "Slope", "type": "quantitative", "scale": {"domain": [-2.189, 1.299]}, "axis": null},
                  "y": {"field": "Elev", "type": "quantitative", "scale": {"domain": [-1.072, 2.077]}, "axis": null}},
     "layer": [{"mark": "point"}, {"data": {"name": "smooth"}, "transform": [{"filter": "datum.fit=='Elev~Slope'"}], "mark": {"type": "line", "clip": true}}]},
    {"width": 139.5, "height": 133.3, "layer": [
      {"mark": {"type": "point", "opacity": 0}, "encoding": {"x": {"field": "Elev", "type": "quantitative", "scale": {"domain": [-1.072, 2.077]}, "axis": null}, "y": {"field": "Elev", "type": "quantitative", "scale": {"domain": [-1.072, 2.077]}, "axis": null}}},
      {"data": {"values": [{"name": "Elev"}]}, "mark": "text", "encoding": {"text": {"field": "name"}}}]},
    {"width": 139.5, "height": 133.3,
     "encoding": {"x": {"field": "Temp", "type": "quantitative", "scale": {"domain": [-1.269, 2.385]}, "axis": null},
                  "y": {"field": "Elev", "type": "quantitative", "scale": {"domain": [-1.072, 2.077]}, "axis": null}},
     "layer": [{"mark": "point"}, {"data": {"name": "smooth"}, "transform": [{"filter": "datum.fit=='Elev~Temp'"}], "mark": {"type": "line", "clip": true}}]},
    {"width": 139.5, "height": 133.3,
     "encoding": {"x": {"field": "Bank", "type": "quantitative", "scale": {"domain": [-1.574, 1.509]}, "axis": null},
                  "y": {"field": "Elev", "type": "quantitative", "scale": {"domain": [-1.072, 2.077]}, "axis": null}},
     "layer": [{"mark": "point"}, {"data": {"name": "smooth"}, "transform": [{"filter": "datum.fit=='Elev~Bank'"}], "mark": {"type": "line", "clip": true}}]},
    {"width": 139.5, "height": 133.3,
     "encoding": {"x": {"field": "Bed", "type": "quantitative", "scale": {"domain": [-2.572, 1.002]}, "axis": null},
                  "y": {"field": "Elev", "type": "quantitative", "scale": {"domain": [-1.072, 2.077]}, "axis": null}},
     "layer": [{"mark": "point"}, {"data": {"name": "smooth"}, "transform": [{"filter": "datum.fit=='Elev~Bed'"}], "mark": {"type": "line", "clip": true}}]},

    {"width": 139.5, "height": 133.3,
     "encoding": {"x": {"field": "ZoneSize", "type": "quantitative", "scale": {"domain": [1.898, 27.342]}, "axis": null},
                  "y": {"field": "Temp", "type": "quantitative", "scale": {"domain": [-1.269, 2.385]}, "axis": null}},
     "layer": [{"mark": "point"}, {"data": {"name": "smooth"}, "transform": [{"filter": "datum.fit=='Temp~ZoneSize'"}], "mark": {"type": "line", "clip": true}}]},
    {"width": 139.5, "height": 133.3,
     "encoding": {"x": {"field": "WD", "type": "quantitative", "scale": {"domain": [-0.8525, 1.2395]}, "axis": null},
                  "y": {"field": "Temp", "type": "quantitative", "scale": {"domain": [-1.269, 2.385]}, "axis": null}},
     "layer": [{"mark": "point"}, {"data": {"name": "smooth"}, "transform": [{"filter": "datum.fit=='Temp~WD'"}], "mark": {"type": "line", "clip": true}}]},
    {"width": 139.5, "height": 133.3,
     "encoding": {"x": {"field": "Slope", "type": "quantitative", "scale": {"domain": [-2.189, 1.299]}, "axis": null},
                  "y": {"field": "Temp", "type": "quantitative", "scale": {"domain": [-1.269, 2.385]}, "axis": null}},
     "layer": [{"mark": "point"}, {"data": {"name": "smooth"}, "transform": [{"filter": "datum.fit=='Temp~Slope'"}], "mark": {"type": "line", "clip": true}}]},
    {"width": 139.5, "height": 133.3,
     "encoding": {"x": {"field": "Elev", "type": "quantitative", "scale": {"domain": [-1.072, 2.077]}, "axis": null},
                  "y": {"field": "Temp", "type": "quantitative", "scale": {"domain": [-1.269, 2.385]}, "axis": null}},
     "layer": [{"mark": "point"}, {"data": {"name": "smooth"}, "transform": [{"filter": "datum.fit=='Temp~Elev'"}], "mark": {"type": "line", "clip": true}}]},
    {"width": 139.5, "height": 133.3, "layer": [
      {"mark": {"type": "point", "opacity": 0}, "encoding": {"x": {"field": "Temp", "type": "quantitative", "scale": {"domain": [-1.269, 2.385]}, "axis": null}, "y": {"field": "Temp", "type": "quantitative", "scale": {"domain": [-1.269, 2.385]}, "axis": null}}},
      {"data": {"values": [{"name": "Temp"}]}, "mark": "text", "encoding": {"text": {"field": "name"}}}]},
    {"width": 139.5, "height": 133.3,
     "encoding": {"x": {"field": "Bank", "type": "quantitative", "scale": {"domain": [-1.574, 1.509]}, "axis": null},
                  "y": {"field": "Temp", "type": "quantitative", "scale": {"domain": [-1.269, 2.385]}, "axis": null}},
     "layer": [{"mark": "point"}, {"data": {"name": "smooth"}, "transform": [{"filter": "datum.fit=='Temp~Bank'"}], "mark": {"type": "line", "clip": true}}]},
    {"width": 139.5, "height": 133.3,
     "encoding": {"x": {"field": "Bed", "type": "quantitative", "scale": {"domain": [-2.572, 1.002]}, "axis": null},
                  "y": {"field": "Temp", "type": "quantitative", "scale": {"domain": [-1.269, 2.385]}, "axis": {"orient": "right", "title": null, "values": [-1, -0.5, 0, 0.5, 1, 1.5, 2], "format": ".1f", "labelExpr": "indexof([-1,0.5,2],datum.value)>=0?replace(datum.label,'−','-'):''"}}},
     "layer": [{"mark": "point"}, {"data": {"name": "smooth"}, "transform": [{"filter": "datum.fit=='Temp~Bed'"}], "mark": {"type": "line", "clip": true}}]},

    {"width": 139.5, "height": 133.3,
     "encoding": {"x": {"field": "ZoneSize", "type": "quantitative", "scale": {"domain": [1.898, 27.342]}, "axis": null},
                  "y": {"field": "Bank", "type": "quantitative", "scale": {"domain": [-1.574, 1.509]}, "axis": {"orient": "left", "title": null, "values": [-1.5, -1, -0.5, 0, 0.5, 1, 1.5], "format": ".1f", "labelExpr": "indexof([-1.5,0,1],datum.value)>=0?replace(datum.label,'−','-'):''"}}},
     "layer": [{"mark": "point"}, {"data": {"name": "smooth"}, "transform": [{"filter": "datum.fit=='Bank~ZoneSize'"}], "mark": {"type": "line", "clip": true}}]},
    {"width": 139.5, "height": 133.3,
     "encoding": {"x": {"field": "WD", "type": "quantitative", "scale": {"domain": [-0.8525, 1.2395]}, "axis": null},
                  "y": {"field": "Bank", "type": "quantitative", "scale": {"domain": [-1.574, 1.509]}, "axis": null}},
     "layer": [{"mark": "point"}, {"data": {"name": "smooth"}, "transform": [{"filter": "datum.fit=='Bank~WD'"}], "mark": {"type": "line", "clip": true}}]},
    {"width": 139.5, "height": 133.3,
     "encoding": {"x": {"field": "Slope", "type": "quantitative", "scale": {"domain": [-2.189, 1.299]}, "axis": null},
                  "y": {"field": "Bank", "type": "quantitative", "scale": {"domain": [-1.574, 1.509]}, "axis": null}},
     "layer": [{"mark": "point"}, {"data": {"name": "smooth"}, "transform": [{"filter": "datum.fit=='Bank~Slope'"}], "mark": {"type": "line", "clip": true}}]},
    {"width": 139.5, "height": 133.3,
     "encoding": {"x": {"field": "Elev", "type": "quantitative", "scale": {"domain": [-1.072, 2.077]}, "axis": null},
                  "y": {"field": "Bank", "type": "quantitative", "scale": {"domain": [-1.574, 1.509]}, "axis": null}},
     "layer": [{"mark": "point"}, {"data": {"name": "smooth"}, "transform": [{"filter": "datum.fit=='Bank~Elev'"}], "mark": {"type": "line", "clip": true}}]},
    {"width": 139.5, "height": 133.3,
     "encoding": {"x": {"field": "Temp", "type": "quantitative", "scale": {"domain": [-1.269, 2.385]}, "axis": null},
                  "y": {"field": "Bank", "type": "quantitative", "scale": {"domain": [-1.574, 1.509]}, "axis": null}},
     "layer": [{"mark": "point"}, {"data": {"name": "smooth"}, "transform": [{"filter": "datum.fit=='Bank~Temp'"}], "mark": {"type": "line", "clip": true}}]},
    {"width": 139.5, "height": 133.3, "layer": [
      {"mark": {"type": "point", "opacity": 0}, "encoding": {"x": {"field": "Bank", "type": "quantitative", "scale": {"domain": [-1.574, 1.509]}, "axis": null}, "y": {"field": "Bank", "type": "quantitative", "scale": {"domain": [-1.574, 1.509]}, "axis": null}}},
      {"data": {"values": [{"name": "Bank"}]}, "mark": "text", "encoding": {"text": {"field": "name"}}}]},
    {"width": 139.5, "height": 133.3,
     "encoding": {"x": {"field": "Bed", "type": "quantitative", "scale": {"domain": [-2.572, 1.002]}, "axis": null},
                  "y": {"field": "Bank", "type": "quantitative", "scale": {"domain": [-1.574, 1.509]}, "axis": null}},
     "layer": [{"mark": "point"}, {"data": {"name": "smooth"}, "transform": [{"filter": "datum.fit=='Bank~Bed'"}], "mark": {"type": "line", "clip": true}}]},

    {"width": 139.5, "height": 133.3,
     "encoding": {"x": {"field": "ZoneSize", "type": "quantitative", "scale": {"domain": [1.898, 27.342]}, "axis": {"orient": "bottom", "title": null, "values": [5, 10, 15, 20, 25], "labelExpr": "indexof([5,15,25],datum.value)>=0?datum.label:''"}},
                  "y": {"field": "Bed", "type": "quantitative", "scale": {"domain": [-2.572, 1.002]}, "axis": null}},
     "layer": [{"mark": "point"}, {"data": {"name": "smooth"}, "transform": [{"filter": "datum.fit=='Bed~ZoneSize'"}], "mark": {"type": "line", "clip": true}}]},
    {"width": 139.5, "height": 133.3,
     "encoding": {"x": {"field": "WD", "type": "quantitative", "scale": {"domain": [-0.8525, 1.2395]}, "axis": null},
                  "y": {"field": "Bed", "type": "quantitative", "scale": {"domain": [-2.572, 1.002]}, "axis": null}},
     "layer": [{"mark": "point"}, {"data": {"name": "smooth"}, "transform": [{"filter": "datum.fit=='Bed~WD'"}], "mark": {"type": "line", "clip": true}}]},
    {"width": 139.5, "height": 133.3,
     "encoding": {"x": {"field": "Slope", "type": "quantitative", "scale": {"domain": [-2.189, 1.299]}, "axis": {"orient": "bottom", "title": null, "values": [-2, -1.5, -1, -0.5, 0, 0.5, 1], "format": ".1f", "labelExpr": "indexof([-2,-0.5,1],datum.value)>=0?replace(datum.label,'−','-'):''"}},
                  "y": {"field": "Bed", "type": "quantitative", "scale": {"domain": [-2.572, 1.002]}, "axis": null}},
     "layer": [{"mark": "point"}, {"data": {"name": "smooth"}, "transform": [{"filter": "datum.fit=='Bed~Slope'"}], "mark": {"type": "line", "clip": true}}]},
    {"width": 139.5, "height": 133.3,
     "encoding": {"x": {"field": "Elev", "type": "quantitative", "scale": {"domain": [-1.072, 2.077]}, "axis": null},
                  "y": {"field": "Bed", "type": "quantitative", "scale": {"domain": [-2.572, 1.002]}, "axis": null}},
     "layer": [{"mark": "point"}, {"data": {"name": "smooth"}, "transform": [{"filter": "datum.fit=='Bed~Elev'"}], "mark": {"type": "line", "clip": true}}]},
    {"width": 139.5, "height": 133.3,
     "encoding": {"x": {"field": "Temp", "type": "quantitative", "scale": {"domain": [-1.269, 2.385]}, "axis": {"orient": "bottom", "title": null, "values": [-1, -0.5, 0, 0.5, 1, 1.5, 2], "format": ".1f", "labelExpr": "indexof([-1,0.5,2],datum.value)>=0?replace(datum.label,'−','-'):''"}},
                  "y": {"field": "Bed", "type": "quantitative", "scale": {"domain": [-2.572, 1.002]}, "axis": null}},
     "layer": [{"mark": "point"}, {"data": {"name": "smooth"}, "transform": [{"filter": "datum.fit=='Bed~Temp'"}], "mark": {"type": "line", "clip": true}}]},
    {"width": 139.5, "height": 133.3,
     "encoding": {"x": {"field": "Bank", "type": "quantitative", "scale": {"domain": [-1.574, 1.509]}, "axis": null},
                  "y": {"field": "Bed", "type": "quantitative", "scale": {"domain": [-2.572, 1.002]}, "axis": null}},
     "layer": [{"mark": "point"}, {"data": {"name": "smooth"}, "transform": [{"filter": "datum.fit=='Bed~Bank'"}], "mark": {"type": "line", "clip": true}}]},
    {"width": 139.5, "height": 133.3, "layer": [
      {"mark": {"type": "point", "opacity": 0},
       "encoding": {"x": {"field": "Bed", "type": "quantitative", "scale": {"domain": [-2.572, 1.002]}, "axis": {"orient": "bottom", "title": null, "values": [-2.5, -2, -1.5, -1, -0.5, 0, 0.5, 1], "format": ".1f", "labelExpr": "indexof([-2.5,-1,0.5],datum.value)>=0?replace(datum.label,'−','-'):''"}},
                    "y": {"field": "Bed", "type": "quantitative", "scale": {"domain": [-2.572, 1.002]}, "axis": {"orient": "right", "title": null, "values": [-2.5, -2, -1.5, -1, -0.5, 0, 0.5, 1], "format": ".1f", "labelExpr": "indexof([-2.5,-1,0.5],datum.value)>=0?replace(datum.label,'−','-'):''"}}}},
      {"data": {"values": [{"name": "Bed"}]}, "mark": "text", "encoding": {"text": {"field": "name"}}}]}
  ],
  "config": {
    "view": {"stroke": "black", "strokeWidth": 1.4},
    "axis": {"domain": false, "grid": false, "ticks": true, "tickColor": "black", "tickWidth": 1.3, "tickSize": 11.5, "labelColor": "black", "labelFont": "Liberation Sans", "labelFontSize": 18, "labelFlush": false, "labelOverlap": false, "labelBound": false},
    "axisTop": {"labelBaseline": "alphabetic", "labelPadding": 14},
    "axisBottom": {"labelBaseline": "top", "labelPadding": 16},
    "axisLeft": {"labelAngle": -90, "labelAlign": "center", "labelBaseline": "alphabetic", "labelPadding": 17},
    "axisRight": {"labelAngle": -90, "labelAlign": "center", "labelBaseline": "top", "labelPadding": 15},
    "point": {"color": "black", "filled": false, "shape": "circle", "size": 56, "strokeWidth": 1.5, "opacity": 1},
    "line": {"color": "#ff0000", "strokeWidth": 1.6},
    "text": {"font": "Liberation Sans", "fontSize": 27.5, "color": "black", "align": "center", "baseline": "middle", "dy": 2}
  }
}
